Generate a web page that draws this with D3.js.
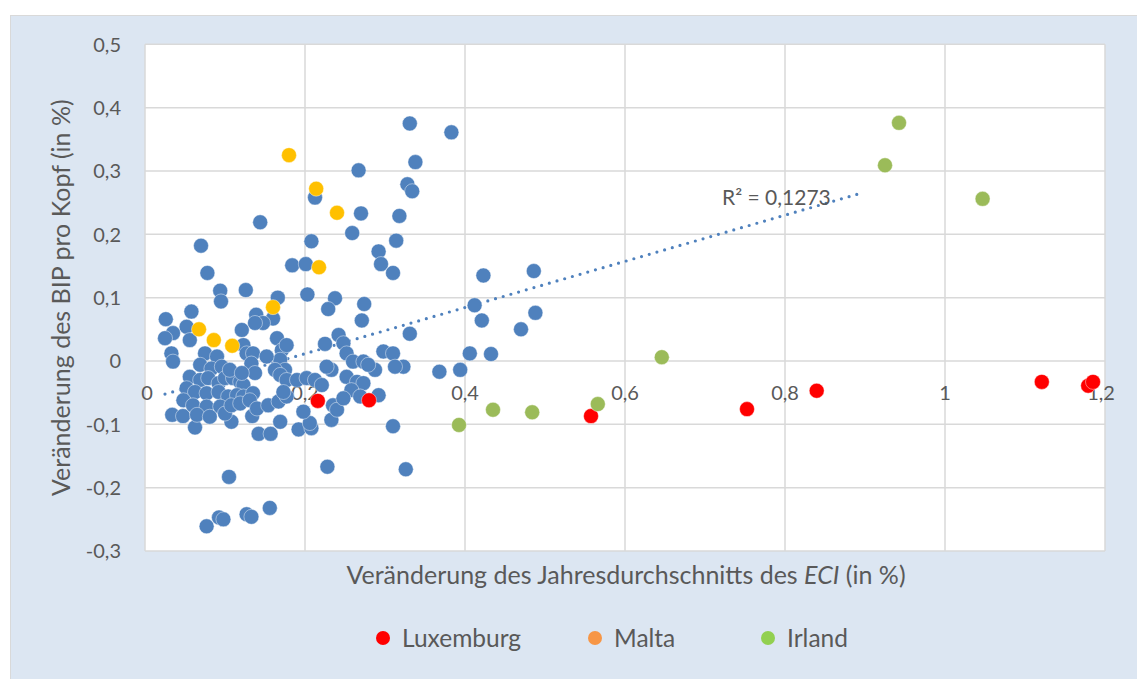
<!DOCTYPE html>
<html>
<head>
<meta charset="utf-8">
<script src="https://cdn.jsdelivr.net/npm/d3@7/dist/d3.min.js"></script>
<style>
  html, body { margin: 0; padding: 0; background: #ffffff; }
  svg { display: block; }
  text { font-family: Lato, "Open Sans", sans-serif; fill: #595959; }
</style>
</head>
<body>
<svg id="chart" width="1137" height="679"></svg>
<script>
// ---------- DATA ----------
const xTicks = [0, 0.2, 0.4, 0.6, 0.8, 1, 1.2];
const yTicks = [-0.3, -0.2, -0.1, 0, 0.1, 0.2, 0.3, 0.4, 0.5];

// other countries (blue)
const others = [
  [0.331,0.375],[0.383,0.361],[0.338,0.314],[0.267,0.301],[0.328,0.279],[0.334,0.268],
  [0.2125,0.258],[0.270,0.233],[0.318,0.229],[0.144,0.219],[0.259,0.202],[0.208,0.189],
  [0.314,0.190],[0.070,0.182],[0.292,0.173],[0.184,0.151],[0.201,0.153],[0.295,0.153],
  [0.310,0.139],[0.078,0.139],[0.423,0.135],[0.486,0.142],[0.094,0.111],[0.095,0.094],
  [0.126,0.112],[0.203,0.105],[0.166,0.100],[0.2375,0.099],[0.229,0.082],[0.274,0.090],
  [0.412,0.088],[0.488,0.076],[0.421,0.064],[0.470,0.050],[0.331,0.043],[0.406,0.012],
  [0.4325,0.011],[0.368,-0.017],[0.394,-0.014],[0.271,0.064],[0.026,0.066],[0.058,0.078],
  [0.139,0.073],[0.160,0.067],[0.1475,0.060],[0.1375,0.060],[0.121,0.049],
  [0.310,-0.103],[0.326,-0.171],[0.228,-0.167],[0.105,-0.183],[0.077,-0.261],[0.0925,-0.247],
  [0.098,-0.250],[0.127,-0.242],[0.133,-0.246],[0.156,-0.232],[0.0625,-0.105],[0.142,-0.115],
  [0.157,-0.115],[0.192,-0.108],[0.208,-0.106],[0.108,-0.096],[0.034,-0.085],[0.0475,-0.087],
  [0.134,-0.087],[0.169,-0.096],[0.233,-0.093],[0.206,-0.098],[0.198,-0.080],[0.235,-0.070],
  [0.052,0.054],[0.035,0.044],[0.025,0.036],[0.056,0.033],[0.033,0.012],[0.035,-0.001],
  [0.075,0.012],[0.090,0.007],[0.069,-0.006],[0.083,-0.012],[0.096,-0.009],[0.056,-0.025],
  [0.069,-0.030],[0.079,-0.027],[0.092,-0.035],[0.100,-0.027],[0.052,-0.043],[0.0625,-0.049],
  [0.077,-0.051],[0.092,-0.049],[0.104,-0.056],[0.048,-0.062],[0.060,-0.070],[0.077,-0.072],
  [0.094,-0.072],[0.065,-0.085],[0.081,-0.088],[0.100,-0.083],
  [0.123,0.025],[0.127,0.012],[0.135,0.012],[0.133,-0.004],[0.165,0.036],[0.171,0.017],
  [0.169,0.002],[0.177,0.025],[0.175,-0.014],[0.152,0.007],[0.1625,-0.014],[0.1375,-0.019],
  [0.110,-0.027],[0.119,-0.033],[0.123,-0.038],[0.115,-0.054],[0.123,-0.056],[0.135,-0.051],
  [0.108,-0.070],[0.119,-0.067],[0.131,-0.062],[0.140,-0.075],[0.154,-0.070],[0.167,-0.064],
  [0.177,-0.056],[0.169,-0.022],[0.177,-0.030],[0.173,-0.049],[0.106,-0.014],[0.121,-0.019],
  [0.225,0.027],[0.242,0.041],[0.248,0.028],[0.252,0.012],[0.233,-0.014],[0.227,-0.009],
  [0.190,-0.030],[0.202,-0.027],[0.2125,-0.030],[0.221,-0.038],[0.240,-0.077],
  [0.260,-0.001],[0.273,-0.001],[0.2875,-0.014],[0.323,-0.009],[0.252,-0.025],[0.265,-0.033],
  [0.273,-0.035],[0.258,-0.046],[0.248,-0.059],[0.269,-0.056],[0.292,-0.054],[0.298,0.015],
  [0.310,0.012],[0.3125,-0.009],[0.279,-0.006]
];

const malta = [
  [0.180,0.325],[0.214,0.272],[0.240,0.234],[0.2175,0.148],[0.160,0.085],
  [0.0675,0.050],[0.086,0.033],[0.109,0.024]
];

const luxemburg = [
  [0.216,-0.063],[0.280,-0.062],[0.5575,-0.087],[0.7525,-0.076],[0.8396,-0.047],
  [1.121,-0.033],[1.179,-0.039],[1.185,-0.033]
];

const irland = [
  [0.9425,0.376],[0.925,0.309],[1.047,0.256],[0.646,0.006],[0.566,-0.068],
  [0.484,-0.081],[0.435,-0.077],[0.3925,-0.101]
];

const trend = { slope: 0.3646, intercept: -0.0614, x0: 0.025, x1: 0.89, label: "R² = 0,1273" };

const legendItems = [
  { name: "Luxemburg", color: "#FF0000" },
  { name: "Malta", color: "#F79646" },
  { name: "Irland", color: "#92D050" }
];

const yTitle = "Veränderung des BIP pro Kopf (in %)";

// ---------- DRAW ----------
const svg = d3.select("#chart");
const x = d3.scaleLinear().domain([0, 1.2]).range([145, 1105]);
const y = d3.scaleLinear().domain([-0.3, 0.5]).range([551, 44.3]);

const loc = d3.formatLocale({ decimal: ",", thousands: ".", grouping: [3], currency: ["", "€"], minus: "-" });
const fmt = v => loc.format("~g")(Math.round(v * 10) / 10);

// outer panel
svg.append("rect").attr("x", 10.5).attr("y", 15.5).attr("width", 1130).attr("height", 670)
  .attr("fill", "#DCE6F2").attr("stroke", "#D9D9D9").attr("stroke-width", 1);

// plot area
svg.append("rect").attr("x", x(0)).attr("y", y(0.5)).attr("width", x(1.2) - x(0)).attr("height", y(-0.3) - y(0.5))
  .attr("fill", "#ffffff");

// gridlines
const grid = svg.append("g").attr("stroke", "#D9D9D9").attr("stroke-width", 1.5);
grid.selectAll("line.h").data(yTicks).join("line")
  .attr("x1", x(0)).attr("x2", x(1.2)).attr("y1", d => y(d)).attr("y2", d => y(d));
grid.selectAll("line.v").data(xTicks).join("line")
  .attr("y1", y(0.5)).attr("y2", y(-0.3)).attr("x1", d => x(d)).attr("x2", d => x(d));

// y tick labels
svg.append("g").selectAll("text").data(yTicks).join("text")
  .attr("x", 121).attr("y", d => y(d)).attr("dy", "0.36em")
  .attr("text-anchor", "end").attr("font-size", 20).text(d => fmt(d));

// x tick labels
svg.append("g").selectAll("text").data(xTicks).join("text")
  .attr("x", d => x(d) + (d === 0 ? 2 : (d === 1.2 ? -4 : 0))).attr("y", y(0) + 32).attr("dy", "0.36em")
  .attr("text-anchor", "middle").attr("font-size", 20).text(d => fmt(d));

// trendline
const tl = d3.line().x(d => x(d)).y(d => y(trend.slope * d + trend.intercept));
svg.append("path").datum([trend.x0, trend.x1]).attr("d", tl)
  .attr("fill", "none").attr("stroke", "#4F81BD").attr("stroke-width", 3.2)
  .attr("stroke-linecap", "round").attr("stroke-dasharray", "0 8");

// points
function drawSeries(data, color) {
  svg.append("g").selectAll("circle").data(data).join("circle")
    .attr("cx", d => x(d[0])).attr("cy", d => y(d[1])).attr("r", 7.5)
    .attr("fill", color).attr("stroke", "#ffffff").attr("stroke-opacity", 0.55).attr("stroke-width", 0.8);
}
drawSeries(others, "#4F81BD");
drawSeries(malta, "#FFC000");
drawSeries(luxemburg, "#FF0000");
drawSeries(irland, "#9BBB59");

// R² label
svg.append("text").attr("x", 722).attr("y", 197).attr("dy", "0.36em")
  .attr("font-size", 21).text(trend.label);

// axis titles
svg.append("text").attr("transform", `translate(70,${(y(0.5) + y(-0.3)) / 2}) rotate(-90)`)
  .attr("text-anchor", "middle").attr("font-size", 25).text(yTitle);

const xt = svg.append("text").attr("x", (x(0) + x(1.2)) / 2 + 1).attr("y", 584)
  .attr("text-anchor", "middle").attr("font-size", 25);
xt.append("tspan").text("Veränderung des Jahresdurchschnitts des ");
xt.append("tspan").attr("font-style", "italic").text("ECI");
xt.append("tspan").text(" (in %)");

// legend
const legendX = [383, 595, 768];
const lg = svg.append("g");
legendItems.forEach((it, i) => {
  lg.append("circle").attr("cx", legendX[i]).attr("cy", 638).attr("r", 7).attr("fill", it.color);
  lg.append("text").attr("x", legendX[i] + 19).attr("y", 638).attr("dy", "0.36em")
    .attr("font-size", 24.5).text(it.name);
});
</script>
</body>
</html>
